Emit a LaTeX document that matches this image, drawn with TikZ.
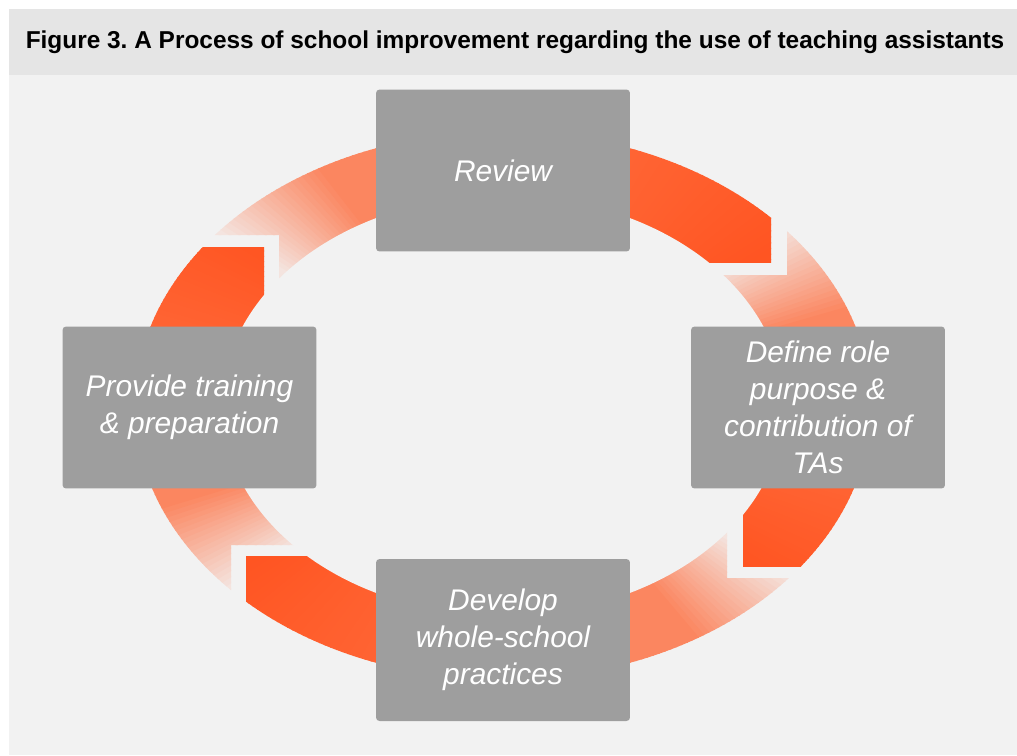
\documentclass[tikz,border=0pt]{standalone}
\usepackage{fontspec}
\setmainfont{Liberation Sans}
\definecolor{headgray}{HTML}{E5E5E5}
\definecolor{bodygray}{HTML}{F2F2F2}
\definecolor{boxgray}{HTML}{9E9E9E}
\definecolor{orangeA}{HTML}{FF6F40}
\definecolor{orangeB}{HTML}{FF5522}
\definecolor{paleorange}{HTML}{F4E4DF}
\definecolor{salmon}{HTML}{FB8660}
\tikzset{stepbox/.style={rectangle,fill=boxgray,rounded corners=2pt,
    minimum width=5.08cm,minimum height=3.24cm,text=white,align=center,
    font=\fontsize{17}{21}\selectfont\itshape}}

% one piece of the ring: region, start angle, colours, blend range
\newcommand{\ringpiece}[6]{%
    \begin{scope}
        \clip #1;
        \clip (ctr) ellipse [x radius=368, y radius=274];
        \foreach \s in {-2,-1,...,92}{
            \pgfmathsetmacro\mixp{max(0,min(100,100*((\s)+1-(#5))/((#6)-(#5))))}
            \colorlet{wedgecol}{#4!\mixp!#3}
            \fill[wedgecol] (ctr)
                -- ({503+500*cos((#2)-(\s)+0.7)},{405.5-380*sin((#2)-(\s)+0.7)})
                -- ({503+500*cos((#2)-(\s)-0.5)},{405.5-380*sin((#2)-(\s)-0.5)}) -- cycle;
        }
    \end{scope}}

\begin{document}
\frenchspacing
\begin{tikzpicture}[x=0.02cm,y=-0.02cm]
        \useasboundingbox (0,0) rectangle (1017,755);
        \fill[white] (0,0) rectangle (1017,755);
        \fill[bodygray] (9,9) rectangle (1017,755);
        \fill[headgray] (9,9) rectangle (1017,75);
        \node (title) at (515,42) {\fontsize{13.9}{16}\selectfont\bfseries
            Figure 3. A Process of school improvement regarding the use of teaching assistants};

        \coordinate (ctr) at (503,405.5);
        % top right
        \ringpiece{(503,100) rectangle (771,262)}{90}{orangeA}{orangeB}{0}{54}
        \ringpiece{(787,100) -- (900,100) -- (900,405.5) -- (503,405.5) -- (503,275) -- (787,275) -- cycle}{90}{paleorange}{salmon}{51}{71}
        % bottom right
        \ringpiece{(743,405.5) rectangle (900,566)}{0}{orangeA}{orangeB}{0}{42}
        \ringpiece{(503,405.5) -- (727,405.5) -- (727,578) -- (900,578) -- (900,700) -- (503,700) -- cycle}{0}{paleorange}{salmon}{39}{59}
        % bottom left
        \ringpiece{(246,556) rectangle (503,700)}{-90}{orangeA}{orangeB}{0}{52}
        \ringpiece{(100,405.5) -- (503,405.5) -- (503,545) -- (231,545) -- (231,700) -- (100,700) -- cycle}{-90}{paleorange}{salmon}{50}{70}
        % top left
        \ringpiece{(100,247) rectangle (264,405.5)}{180}{orangeA}{orangeB}{0}{42}
        \ringpiece{(100,100) -- (503,100) -- (503,405.5) -- (279,405.5) -- (279,235) -- (100,235) -- cycle}{180}{paleorange}{salmon}{40}{61}
        \fill[bodygray] (ctr) ellipse [x radius=281, y radius=210];

        \node[stepbox] (review) at (503,170.5) {Review};
        \node[stepbox] (define) at (818,407.5) {Define role\\purpose \&\\contribution of\\TAs};
        \node[stepbox] (develop) at (503,640) {Develop\\whole-school\\practices};
        \node[stepbox] (provide) at (189.5,407.5) {Provide training\\\& preparation};
    \end{tikzpicture}
\end{document}
